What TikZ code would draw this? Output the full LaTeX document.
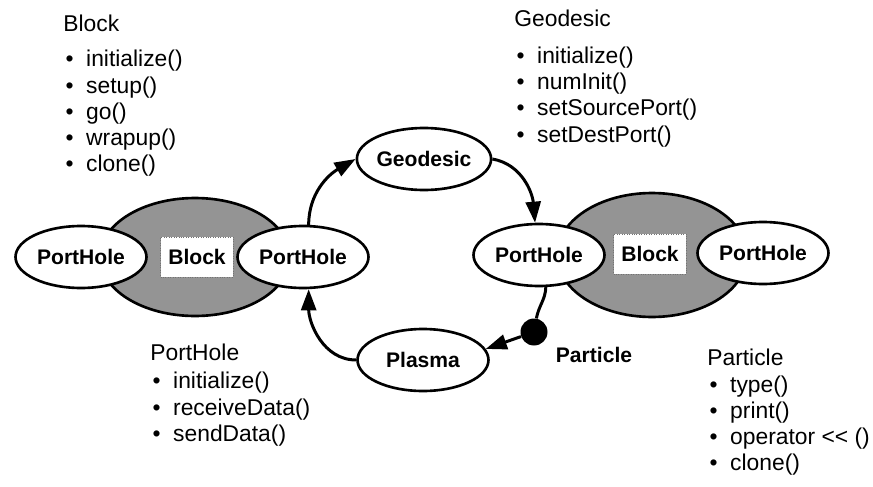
\documentclass[tikz,border=0pt]{standalone}
\usepackage{fontspec}
\setmainfont{Liberation Sans}
\usetikzlibrary{shapes.geometric,arrows.meta}
\newcommand{\meth}[1]{\hspace*{0.1em}\textbullet\hspace{0.55em}#1}

\begin{document}
\begin{tikzpicture}[x=0.02cm,y=-0.02cm,
  obj/.style={ellipse,draw,line width=1.5pt,fill=white,inner sep=0pt,
    minimum width=2.62cm,minimum height=1.24cm,font=\bfseries\fontsize{12}{13}\selectfont},
  blk/.style={ellipse,draw,line width=1.5pt,fill=black!42,minimum width=3.8cm,minimum height=2.36cm},
  lbl/.style={draw=black!55,densely dotted,fill=white,minimum width=1.46cm,minimum height=0.8cm,
    inner sep=0pt,font=\bfseries\fontsize{12}{13}\selectfont},
  flow/.style={line width=1.7pt,-{Triangle[length=12pt,width=8.5pt]}},
  list/.style={anchor=north west,align=left,inner sep=0pt,font=\fontsize{13}{14.9}\selectfont}]
\useasboundingbox (0,0) rectangle (873,487);

% left block
\node[blk] (blockA) at (195,257) {};
\node[lbl] (nameA) at (197,257) {Block};
\node[obj] (inA) at (81,257) {PortHole};
\node[obj] (outA) at (303,257) {PortHole};

% right block
\node[blk,minimum height=2.48cm] (blockB) at (652,255) {};
\node[lbl] (nameB) at (650,254) {Block};
\node[obj] (inB) at (539,255) {PortHole};
\node[obj] (outB) at (763,253) {PortHole};

\node[obj] (geo) at (424,159) {Geodesic};
\node[obj] (plasma) at (423,360) {Plasma};
\node[circle,fill=black,minimum size=0.54cm,inner sep=0pt] (part) at (534,332) {};
\node[font=\bfseries\fontsize{12}{13}\selectfont] (partname) at (594,355) {Particle};

\draw[flow] (outA.80) to[out=90,in=210] (geo.west);
\draw[flow] (geo.east) to[out=-10,in=95] (inB.97);
\draw[line width=1.7pt] (inB.-78) to[out=-92,in=80] (part);
\draw[flow] (part) -- (plasma.10);
\draw[flow] (plasma.west) to[out=180,in=-90] (outA.-80);

% method lists
\node[list] (blockops) at (63,15) {Block\\[5pt] \meth{initialize()}\\ \meth{setup()}\\
  \meth{go()}\\ \meth{wrapup()}\\ \meth{clone()}};
\node[list] (geoops) at (514,10) {Geodesic\\[6pt] \meth{initialize()}\\ \meth{numInit()}\\
  \meth{setSourcePort()}\\ \meth{setDestPort()}};
\node[list] (portops) at (150,344) {PortHole\\[1pt] \meth{initialize()}\\ \meth{receiveData()}\\
  \meth{sendData()}};
\node[list] (partops) at (707,349) {Particle\\ \meth{type()}\\ \meth{print()}\\
  \meth{operator {<}{<} ()}\\ \meth{clone()}};
\end{tikzpicture}
\end{document}
